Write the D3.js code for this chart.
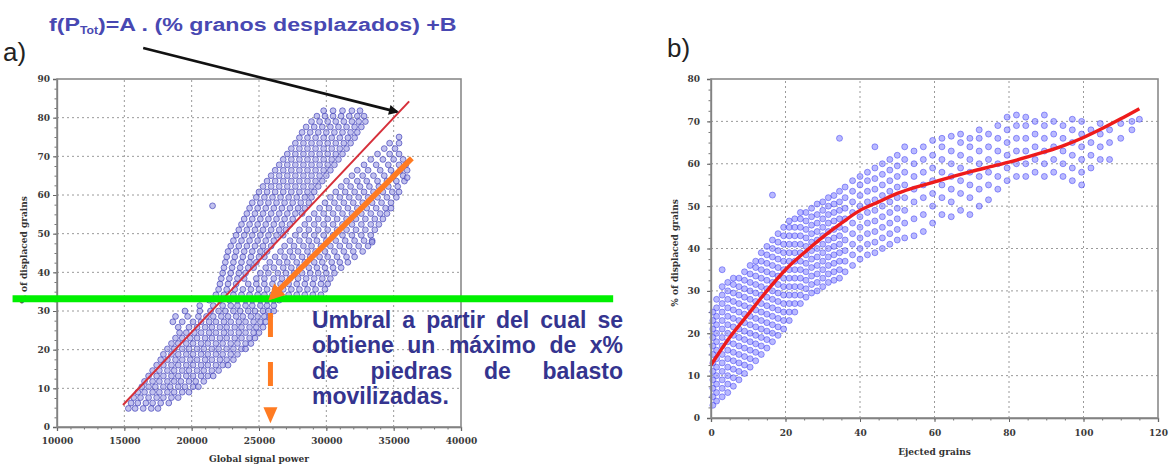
<!DOCTYPE html>
<html><head><meta charset="utf-8">
<script src="https://cdn.jsdelivr.net/npm/d3@7"></script>
<style>body{margin:0;background:#fff}svg{display:block}</style>
</head><body>
<script>
// ---------------- DATA ----------------
const powerTicks = [10000,15000,20000,25000,30000,35000,40000];
const leftPctTicks = [0,10,20,30,40,50,60,70,80,90];
const grainTicks = [0,20,40,60,80,100,120];
const rightPctTicks = [0,10,20,30,40,50,60,70,80];

// left chart: rows of [% displaced grains, global signal power values...]
const leftRows = [
[4.8, 15300,15800,16400,17000,17500],
[6.2, 15500,16000,16600,17100,17700,18300],
[7.6, 15700,16200,16800,17400,17900,18500,19000],
[9.0, 16000,16500,17100,17600,18200,18700,19300,19800],
[10.4, 16300,16800,17300,17900,18400,19000,19500,20100,20500],
[11.8, 16500,17100,17600,18200,18700,19200,19800,20300,20900],
[13.2, 16800,17400,17900,18500,19000,19600,20100,20700,21200,21600],
[14.6, 17100,17600,18200,18700,19300,19800,20400,20900,21500,22000],
[16.0, 17400,17900,18500,19000,19600,20100,20700,21200,21800,22300,22700],
[17.4, 17700,18200,18800,19300,19900,20400,21000,21500,22100,22600,23100],
[18.8, 17900,18500,19000,19600,20100,20700,21200,21800,22300,22900,23400],
[20.2, 18200,18700,19300,19800,20400,20900,21500,22000,22600,23100,23700,24000],
[21.6, 18500,19000,19600,20100,20700,21200,21800,22300,22900,23400,24000,24400],
[23.0, 18800,19300,19900,20400,21000,21500,22100,22600,23200,23700,24300,24700],
[24.4, 19100,19600,20200,20700,21300,21800,22400,22900,23500,24000,24600,25000],
[25.8, 19000,19800,20400,21000,21500,22100,22600,23200,23700,24300,24800,25300],
[27.2, 18600,19300,20100,20700,21300,21800,22400,22900,23500,24000,24600,25100,25500],
[28.6, 18800,19700,20500,21100,21600,22200,22700,23300,23800,24400,24900,25400,25800],
[30.0, 19500,20600,21400,22000,22500,23100,23600,24200,24700,25300,25700,26100],
[31.4, 20600,21600,22300,22900,23400,24000,24500,25100,25600,26100],
[32.8, 21300,22100,22800,23400,24000,24500,25100,25600,26100,26500],
[34.2, 21800,22400,23100,23700,24300,24900,25400,26000,26600,27200,27800,28400,29000,29600],
[35.6, 22000,22600,23200,23800,24400,25000,25600,26200,26800,27400,28000,28600,29200,29900],
[37.0, 22100,22700,23300,24200,24800,25400,26000,26600,27200,27800,28400,29000,29600,30100],
[38.4, 22200,22800,23400,23900,24800,25400,26100,26700,27300,27900,28500,29100,29700,30300],
[39.8, 22300,22900,23500,24000,25100,25700,26400,27000,27600,28200,28800,29400,30000,30600],
[41.2, 22400,23000,23600,24200,24600,25500,26100,26800,27400,28000,28700,29300,29900,30500,31100],
[42.6, 22500,23100,23700,24300,24800,25800,26500,27100,27800,28400,29100,29700,30400,31000,31600],
[44.0, 22600,23200,23800,24400,25000,25400,26200,26900,27500,28200,28800,29500,30100,30800,31500,32100],
[45.4, 22700,23300,23900,24500,25100,25600,26600,27300,27900,28600,29200,29900,30600,31300,32000,32700],
[46.8, 22900,23500,24100,24700,25300,25900,26900,27600,28300,28900,29600,30300,31000,31700,32400,33100],
[48.2, 23100,23700,24300,24900,25500,26100,27300,28000,28700,29300,30000,30700,31400,32100,32800,33400],
[49.6, 23300,23900,24500,25100,25700,26300,26800,27700,28400,29100,29800,30500,31200,31900,32600,33300],
[51.0, 23500,24100,24700,25300,25900,26500,27000,28000,28700,29400,30100,30800,31500,32200,32900,33600],
[52.4, 23700,24300,24900,25500,26100,26700,27300,28400,29100,29800,30500,31200,31900,32600,33300,33900],
[53.8, 23900,24500,25100,25700,26300,26900,27500,28700,29400,30100,30800,31500,32200,32900,33600,34200],
[55.2, 24100,24700,25300,25900,26500,27100,27700,28200,29100,29800,30500,31200,31900,32600,33300,34000,34500],
[56.6, 24300,24900,25500,26100,26700,27300,27900,28400,29500,30200,30900,31600,32300,33000,33700,34400,34800],
[58.0, 24500,25100,25700,26300,26900,27500,28100,28700,29900,30600,31300,32000,32700,33400,34100,34800],
[59.4, 24800,25400,26000,26600,27200,27800,28400,28900,30300,31000,31700,32400,33100,33800,34500,35200],
[60.8, 25000,25600,26200,26800,27400,28000,28600,29100,30700,31400,32100,32800,33500,34200,34900,35400],
[62.2, 25300,25900,26500,27100,27700,28300,28900,29400,31100,31800,32500,33200,33900,34600,35300],
[63.6, 25600,26200,26800,27400,28000,28600,29200,29700,31500,32300,33000,33800,34500,35200,35800],
[65.0, 25900,26500,27100,27700,28300,28900,29500,30000,31900,32700,33500,34300,35000,35700],
[66.4, 26200,26800,27400,28000,28600,29200,29800,30300,32300,33100,34000,34800,35500,36000],
[67.8, 26500,27100,27700,28300,28900,29500,30100,30600,32800,33700,34600,35400,35900],
[69.2, 26800,27400,28000,28600,29200,29800,30400,30900,33300,34200,35000,35700],
[70.6, 27100,27700,28300,28900,29500,30100,30700,31200,33800,34700,35400],
[72.0, 27400,28000,28600,29200,29800,30400,31000,31500,34300,35100],
[73.4, 27700,28300,28900,29500,30100,30700,31300,31800,34700,35400],
[74.8, 28000,28600,29200,29800,30400,31000,31600,32100],
[76.2, 28200,28800,29400,30000,30600,31200,31800,32300],
[77.6, 28500,29100,29700,30300,30900,31500,32100,32600],
[79.0, 28900,29500,30100,30700,31300,31900,32400,32900],
[80.4, 29300,29900,30500,31100,31700,32300,32800],
[81.8, 29800,30500,31200,31900,32500]
];
const leftOutliers = [[21550,57.2],[35400,75],[36000,64.5],[33400,47.8]];
// linear fit f(P_Tot) = A·(% granos desplazados) + B, endpoints [power, %]
const fitLine = [[14900,5.7],[36150,84.2]];
// threshold (green) and annotation arrows, in data units
const threshold = 33.2;
const thresholdSpan = [6700,51300];
const blackArrow = [[16400,98],[35250,81.5]];
const orangeArrow = [[36350,69.5],[25950,33.6]];
const orangeDrop = [[25850,29.5],[25850,1]];

// right chart: columns of [ejected grains, % displaced grains values...]
const rightCols = [
[0.5, 3,5,7,9,11,13,15,17,19,21,23,25],
[1.5, 4,6,8,10,12,14,16,18,20,22,24,26,28],
[3, 5,7,9,11,13,15,17,19,21,23,25,27,29,31,35],
[4.5, 6,8,10,12,14,16,18,20,22,24,26,28,30,32],
[6, 7.5,9.5,11.5,13.5,15.5,17.5,19.5,21.5,23.5,25.5,27.5,29.5,31.5,33],
[7.5, 9,11,13,15,17,19,21,23,25,27,29,31,33],
[9, 10.5,12.5,14.5,16.5,18.5,20.5,22.5,24.5,26.5,28.5,30.5,32.5,34.5],
[10.5, 12,14,16,18,20,22,24,26,28,30,32,34,36],
[12, 13.5,15.5,17.5,19.5,21.5,23.5,25.5,27.5,29.5,31.5,33.5,35.5,37],
[13.5, 15,17,19,21,23,25,27,29,31,33,35,37,39],
[15, 16.5,18.5,20.5,22.5,24.5,26.5,28.5,30.5,32.5,34.5,36.5,38.5,40.5],
[16.5, 18,20,22,24,26,28,30,32,34,36,38,40,42,52.6],
[18, 19.5,21.5,23.5,25.5,27.5,29.5,31.5,33.5,35.5,37.5,39.5,41.5,43.5],
[19.5, 21,23,25,27,29,31,33,35,37,39,41,43,45],
[21, 23,25,27,29,31,33,35,37,39,41,43,45,46.5],
[22.5, 25,27,29,31,33,35,37,39,41,43,45,47],
[24, 27,29,31,33,35,37,39,41,43,45,47,48.5],
[25.5, 28.5,30.5,32.5,34.5,36.5,38.5,40.5,42.5,44.5,46.5,48.5],
[27, 29.5,31.5,33.5,35.5,37.5,39.5,41.5,43.5,45.5,47.5,49.5],
[28.5, 30,32,34,36,38,40,42,44,46,48,50.5],
[30, 31,33,35,37,39,41,43,45,47,49,51],
[31.5, 32,34,36,38,40,42,44,46,48,50,52],
[33, 32.5,34.5,36.5,38.5,40.5,42.5,44.5,46.5,48.5,50.5,52.5],
[34.5, 33,35,37,39,41,43,45,47,49,51,53.5,66],
[36, 34.5,37,39.5,42,44.5,47,49.5,52,54.5],
[38, 36,38.5,41,43.5,46,48.5,51,53.5,56],
[40, 37.5,40,42.5,45,47.5,50,52.5,55,57],
[42, 38.5,41,43.5,46,48.5,51,53.5,56,58],
[44, 39,41.5,44,46.5,49,51.5,54,56.5,59,64],
[46, 40,42.5,45,47.5,50,52.5,55,57.5,60],
[48, 41,43.5,46,48.5,51,53.5,56,58.5,61],
[50, 42,44.5,47,49.5,52,54.5,57,59.5,62],
[52, 42.5,46,49,52,55,58,61,64],
[54.5, 43,47,51,54,57,60,63],
[57, 44,48,52,55,58,61,64],
[59.5, 46,50,53,56,59,62,65.5],
[62, 48,52,55,58,61,64,66],
[64.5, 47.5,51,54,57,60,63,66.5],
[67, 49,53,56,59,62,65,67],
[69.5, 48,52,55,58,61,64,66],
[72, 50,54,57,60,63,66,68],
[74.5, 51.5,55,58,61,64,67],
[77, 54,57,60,63,66,69],
[79.5, 56,59,62,65,68,71],
[82, 57,60,63,66,69,71.5],
[84.5, 57,60,63,66,69,71],
[87, 58,61,64,67,70],
[89.5, 57,60,63,66,69,71.5],
[92, 58,61,64,67,70],
[94.5, 57,60,63,66,69],
[97, 56,59,62,65,68,70.5],
[99.5, 55,58,61,64,67,70],
[102, 59,62,65,68],
[104.5, 61,64,67,69.5],
[107, 61,65,68],
[110, 66,69.5],
[113, 68,70],
[115, 70.5]
];
// red fitted curve
const curveGrains = [0,5,10,15,20,25,30,35,40,45,50,55,60,65,70,75,80,85,90,95,100,105,110,115];
const curvePct = [12.5,19,24.5,30,35,39,42.7,46,49,51,53,54.5,55.7,57,58.2,59.3,60.4,61.6,62.9,64.4,66.2,68.3,70.6,73];

const annotationLines = ["Umbral a partir del cual se","obtiene un máximo de x%","de piedras de balasto","movilizadas."];

// ---------------- DRAW ----------------
const W = 1169, H = 464;
const svg = d3.select("body").append("svg").attr("width", W).attr("height", H);
const defs = svg.append("defs");
defs.append("marker").attr("id","ahBlack").attr("viewBox","0 0 10 10").attr("refX",8).attr("refY",5)
  .attr("markerUnits","userSpaceOnUse").attr("markerWidth",13).attr("markerHeight",10).attr("orient","auto")
  .append("path").attr("d","M0,0L10,5L0,10Z").attr("fill","#111");
defs.append("marker").attr("id","ahOrange").attr("viewBox","0 0 10 10").attr("refX",7).attr("refY",5)
  .attr("markerUnits","userSpaceOnUse").attr("markerWidth",18).attr("markerHeight",16).attr("orient","auto")
  .append("path").attr("d","M0,0L10,5L0,10Z").attr("fill","#ff7b22");

const tickFont = "'DejaVu Serif', serif";

function styleAxis(g){
  g.select(".domain").attr("stroke","#666").attr("stroke-width",1.3);
  g.selectAll(".tick line").attr("stroke","#666");
  g.selectAll(".tick text").attr("font-family",tickFont).attr("font-weight","bold").attr("font-size",9).attr("fill","#3a3a3a");
}

function panel(x, y, xTicks, yTicks, xMinor, yMinor){
  const [x0,x1] = x.range(), [y0,y1] = y.range();
  const grid = svg.append("g");
  xTicks.slice(1,-1).forEach(t => grid.append("line").attr("x1",x(t)).attr("x2",x(t)).attr("y1",y0).attr("y2",y1));
  yTicks.slice(1,-1).forEach(t => grid.append("line").attr("x1",x0).attr("x2",x1).attr("y1",y(t)).attr("y2",y(t)));
  grid.selectAll("line").attr("stroke","#9a9a9a").attr("stroke-width",1).attr("stroke-dasharray","2,3");
  svg.append("g").attr("transform",`translate(0,${y0})`)
    .call(d3.axisBottom(x).tickValues(xMinor).tickSize(2.5).tickFormat(""))
    .call(g=>{g.select(".domain").remove(); g.selectAll("line").attr("stroke","#777");});
  svg.append("g").attr("transform",`translate(${x0},0)`)
    .call(d3.axisLeft(y).tickValues(yMinor).tickSize(2.5).tickFormat(""))
    .call(g=>{g.select(".domain").remove(); g.selectAll("line").attr("stroke","#777");});
  return grid;
}

// ----- LEFT PANEL -----
const xL = d3.scaleLinear().domain([10000,40000]).range([57,461]);
const yL = d3.scaleLinear().domain([0,90]).range([427,79]);
panel(xL, yL, powerTicks, leftPctTicks, d3.range(10000,40001,1000), d3.range(0,90.1,2.5));

const leftScatter = leftRows.flatMap(r => r.slice(1).map(v => [v, r[0]])).concat(leftOutliers);
svg.append("g").selectAll("circle").data(leftScatter).join("circle")
  .attr("cx", d => xL(d[0])).attr("cy", d => yL(d[1])).attr("r", 2.9)
  .attr("fill","#9a9ae2").attr("fill-opacity",0.6)
  .attr("stroke","#3f3fb8").attr("stroke-opacity",0.75).attr("stroke-width",0.9);

svg.append("path").datum(fitLine)
  .attr("d", d3.line().x(d=>xL(d[0])).y(d=>yL(d[1])))
  .attr("stroke","#d6303a").attr("stroke-width",2).attr("fill","none");

svg.append("g").attr("transform","translate(0,427)")
  .call(d3.axisBottom(xL).tickValues(powerTicks).tickSize(4).tickPadding(7).tickFormat(d3.format("d"))).call(styleAxis);
svg.append("g").attr("transform","translate(57,0)")
  .call(d3.axisLeft(yL).tickValues(leftPctTicks).tickSize(4).tickPadding(3)).call(styleAxis);
svg.append("rect").attr("x",xL(10000)).attr("y",yL(90)).attr("width",xL(40000)-xL(10000)).attr("height",yL(0)-yL(90))
  .attr("fill","none").attr("stroke","#8a8a8a").attr("stroke-width",1.6);

svg.append("text").attr("x",(xL(10000)+xL(40000))/2).attr("y",462).attr("text-anchor","middle")
  .attr("font-family",tickFont).attr("font-weight","bold").attr("font-size",9).attr("fill","#333").text("Global signal power");
svg.append("text").attr("transform","translate(27,250) rotate(-90)").attr("text-anchor","middle")
  .attr("font-family",tickFont).attr("font-weight","bold").attr("font-size",9).attr("fill","#333").text("% of displaced grains");

// threshold line
svg.append("line").attr("x1",xL(thresholdSpan[0])).attr("x2",xL(thresholdSpan[1]))
  .attr("y1",yL(threshold)).attr("y2",yL(threshold))
  .attr("stroke","#00f000").attr("stroke-width",7);

// arrows
svg.append("line").attr("x1",xL(blackArrow[0][0])).attr("y1",yL(blackArrow[0][1]))
  .attr("x2",xL(blackArrow[1][0])).attr("y2",yL(blackArrow[1][1]))
  .attr("stroke","#111").attr("stroke-width",2.6).attr("marker-end","url(#ahBlack)");
svg.append("line").attr("x1",xL(orangeArrow[0][0])).attr("y1",yL(orangeArrow[0][1]))
  .attr("x2",xL(orangeArrow[1][0])).attr("y2",yL(orangeArrow[1][1]))
  .attr("stroke","#ff7b22").attr("stroke-width",5.5).attr("marker-end","url(#ahOrange)");
{
  const xd = xL(orangeDrop[0][0]), ya = yL(orangeDrop[0][1]), yb = yL(orangeDrop[1][1]);
  svg.append("line").attr("x1",xd).attr("x2",xd).attr("y1",ya).attr("y2",yb-32)
    .attr("stroke","#ff7b22").attr("stroke-width",5).attr("stroke-dasharray","24,25");
  svg.append("path").attr("d",`M${xd-7},${yb-16}L${xd+7},${yb-16}L${xd},${yb}Z`).attr("fill","#ff7b22");
}

// title
const title = svg.append("text").attr("x",0).attr("y",0)
  .attr("font-family","'Liberation Sans', Arial, sans-serif").attr("font-weight","bold").attr("font-size",19).attr("fill","#4848b2");
title.append("tspan").text("f(P");
title.append("tspan").attr("font-size",10).attr("dy",3).text("Tot");
title.append("tspan").attr("dy",-3).text(")=A . (% granos desplazados) +B");
{
  const bw = title.node().getComputedTextLength();
  title.attr("transform",`translate(49,31) scale(${408/bw},1)`);
}

svg.append("text").attr("x",3).attr("y",61).attr("font-family","'Liberation Sans', Arial, sans-serif")
  .attr("font-size",26).attr("fill","#222").text("a)");
svg.append("text").attr("x",667).attr("y",57).attr("font-family","'Liberation Sans', Arial, sans-serif")
  .attr("font-size",26).attr("fill","#222").text("b)");

// justified annotation text
{
  const left = 312, right = 623, base0 = 328, lh = 25.3;
  const g = svg.append("g").attr("font-family","'Liberation Sans', Arial, sans-serif")
    .attr("font-weight","bold").attr("font-size",23).attr("fill","#34348f");
  annotationLines.forEach((line, i) => {
    const yy = base0 + i*lh;
    const words = line.split(" ");
    if (i === annotationLines.length-1) { g.append("text").attr("x",left).attr("y",yy).text(line); return; }
    const nodes = words.map(w => g.append("text").attr("y",yy).text(w));
    const widths = nodes.map(n => n.node().getComputedTextLength());
    const gap = (right-left-d3.sum(widths))/(words.length-1);
    let xx = left;
    nodes.forEach((n,k) => { n.attr("x",xx); xx += widths[k] + gap; });
  });
}

// ----- RIGHT PANEL -----
const xR = d3.scaleLinear().domain([0,120]).range([711,1158]);
const yR = d3.scaleLinear().domain([0,80]).range([418,79]);
panel(xR, yR, grainTicks, rightPctTicks, d3.range(0,120.1,5), d3.range(0,80.1,2.5));

const rightScatter = rightCols.flatMap(c => c.slice(1).map(v => [c[0], v]));
svg.append("g").selectAll("circle").data(rightScatter).join("circle")
  .attr("cx", d => xR(d[0])).attr("cy", d => yR(d[1])).attr("r", 3)
  .attr("fill","#8080ff").attr("fill-opacity",0.55)
  .attr("stroke","#3535f0").attr("stroke-opacity",0.6).attr("stroke-width",0.8);

svg.append("path").datum(curveGrains.map((g,i)=>[g,curvePct[i]]))
  .attr("d", d3.line().x(d=>xR(d[0])).y(d=>yR(d[1])).curve(d3.curveMonotoneX))
  .attr("stroke","#ee1b1b").attr("stroke-width",3.4).attr("fill","none");

svg.append("g").attr("transform","translate(0,418)")
  .call(d3.axisBottom(xR).tickValues(grainTicks).tickSize(4).tickPadding(8)).call(styleAxis);
svg.append("g").attr("transform","translate(711,0)")
  .call(d3.axisLeft(yR).tickValues(rightPctTicks).tickSize(4).tickPadding(7)).call(styleAxis);
svg.append("rect").attr("x",xR(0)).attr("y",yR(80)).attr("width",xR(120)-xR(0)).attr("height",yR(0)-yR(80))
  .attr("fill","none").attr("stroke","#8a8a8a").attr("stroke-width",1.6);

svg.append("text").attr("x",(xR(0)+xR(120))/2).attr("y",455).attr("text-anchor","middle")
  .attr("font-family",tickFont).attr("font-weight","bold").attr("font-size",9).attr("fill","#333").text("Ejected grains");
svg.append("text").attr("transform","translate(678,253) rotate(-90)").attr("text-anchor","middle")
  .attr("font-family",tickFont).attr("font-weight","bold").attr("font-size",9).attr("fill","#333").text("% of displaced grains");
</script>
</body></html>
